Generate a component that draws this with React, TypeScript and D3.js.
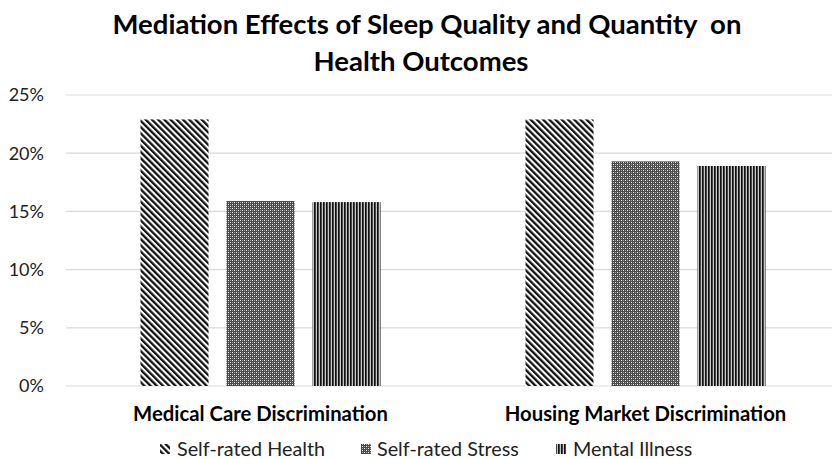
import React from 'react';
import * as d3 from 'd3';

const categories = ['Medical Care Discrimination', 'Housing Market Discrimination'];
const seriesNames = ['Self-rated Health', 'Self-rated Stress', 'Mental Illness'];
const selfRatedHealth = [22.9, 22.9];
const selfRatedStress = [15.9, 19.3];
const mentalIllness = [15.8, 18.9];
const yTicks = [0, 5, 10, 15, 20, 25];

const W = 832;
const H = 459;
const FONT = 'Lato, "Open Sans", sans-serif';
const GRID = '#d9d9d9';
const patternIds = ['pHealth', 'pStress', 'pMental'];

export default function App() {
  const values = [selfRatedHealth, selfRatedStress, mentalIllness];
  const margin = { left: 68, right: -6, top: 95, bottom: 73 };

  const x0 = d3.scaleBand<string>()
    .domain(categories)
    .range([margin.left, W - margin.right])
    .paddingInner(0)
    .paddingOuter(0);

  const x1 = d3.scaleBand<string>()
    .domain(seriesNames)
    .range([0, x0.bandwidth()])
    .paddingInner(0.209)
    .paddingOuter(0.843);

  const y = d3.scaleLinear()
    .domain([0, 25])
    .range([H - margin.bottom, margin.top]);

  // legend positions (swatch x, text x)
  const legend = [
    { sx: 160, tx: 177 },
    { sx: 361, tx: 377 },
    { sx: 556, tx: 573 },
  ];

  return (
    <div style={{ position: 'fixed', left: 0, top: 0 }}>
      <svg width={W} height={H} viewBox={`0 0 ${W} ${H}`} style={{ display: 'block', background: '#fff' }}>
        <defs>
          {/* diagonal "\\" stripes */}
          <pattern id="pHealth" width="4.4" height="4.4" patternUnits="userSpaceOnUse" patternTransform="rotate(-45)">
            <rect width="4.4" height="4.4" fill="#fff" />
            <rect width="2.3" height="4.4" fill="#111" />
          </pattern>
          {/* fine checker */}
          <pattern id="pStress" width="4" height="4" patternUnits="userSpaceOnUse">
            <rect width="4" height="4" fill="#4a4a4a" />
            <rect x="0" y="0" width="1" height="1" fill="#eeeeee" />
            <rect x="2" y="2" width="1" height="1" fill="#eeeeee" />
            <rect x="2" y="0" width="1" height="1" fill="#a8a8a8" />
            <rect x="0" y="2" width="1" height="1" fill="#a8a8a8" />
          </pattern>
          {/* vertical lines */}
          <pattern id="pMental" width="3" height="3" patternUnits="userSpaceOnUse">
            <rect width="3" height="3" fill="#c8c8c8" />
            <rect width="1.7" height="3" fill="#111" />
          </pattern>
        </defs>

        {/* title */}
        <text x={427} y={34} textAnchor="middle" fontFamily={FONT} fontWeight="bold" fontSize={27.5} fill="#000" style={{ whiteSpace: 'pre' }}>
          {'Mediation Effects of Sleep Quality and Quantity  on'}
        </text>
        <text x={421} y={71} textAnchor="middle" fontFamily={FONT} fontWeight="bold" fontSize={27.5} fill="#000">
          Health Outcomes
        </text>

        {/* gridlines + y labels */}
        {yTicks.map((t) => (
          <g key={t}>
            <line x1={66} x2={W} y1={y(t)} y2={y(t)} stroke={GRID} strokeWidth={1.2} />
            <text x={44} y={y(t)} dy="0.35em" textAnchor="end" fontFamily={FONT} fontSize={18} fill="#222">
              {t}%
            </text>
          </g>
        ))}

        {/* bars */}
        {categories.map((c, ci) => (
          <g key={c} transform={`translate(${x0(c)},0)`}>
            {seriesNames.map((s, si) => (
              <rect
                key={s}
                x={x1(s)}
                y={y(values[si][ci])}
                width={x1.bandwidth()}
                height={y(0) - y(values[si][ci])}
                fill={`url(#${patternIds[si]})`}
              />
            ))}
            <text
              x={x0.bandwidth() / 2}
              y={421}
              textAnchor="middle"
              fontFamily={FONT}
              fontWeight="bold"
              fontSize={20.3}
              fill="#000"
            >
              {c}
            </text>
          </g>
        ))}

        {/* legend */}
        {seriesNames.map((s, si) => (
          <g key={s}>
            <rect x={legend[si].sx} y={444} width={10} height={10} fill={`url(#${patternIds[si]})`} />
            <text x={legend[si].tx} y={456} fontFamily={FONT} fontSize={19.8} fill="#222">
              {s}
            </text>
          </g>
        ))}
      </svg>
    </div>
  );
}
